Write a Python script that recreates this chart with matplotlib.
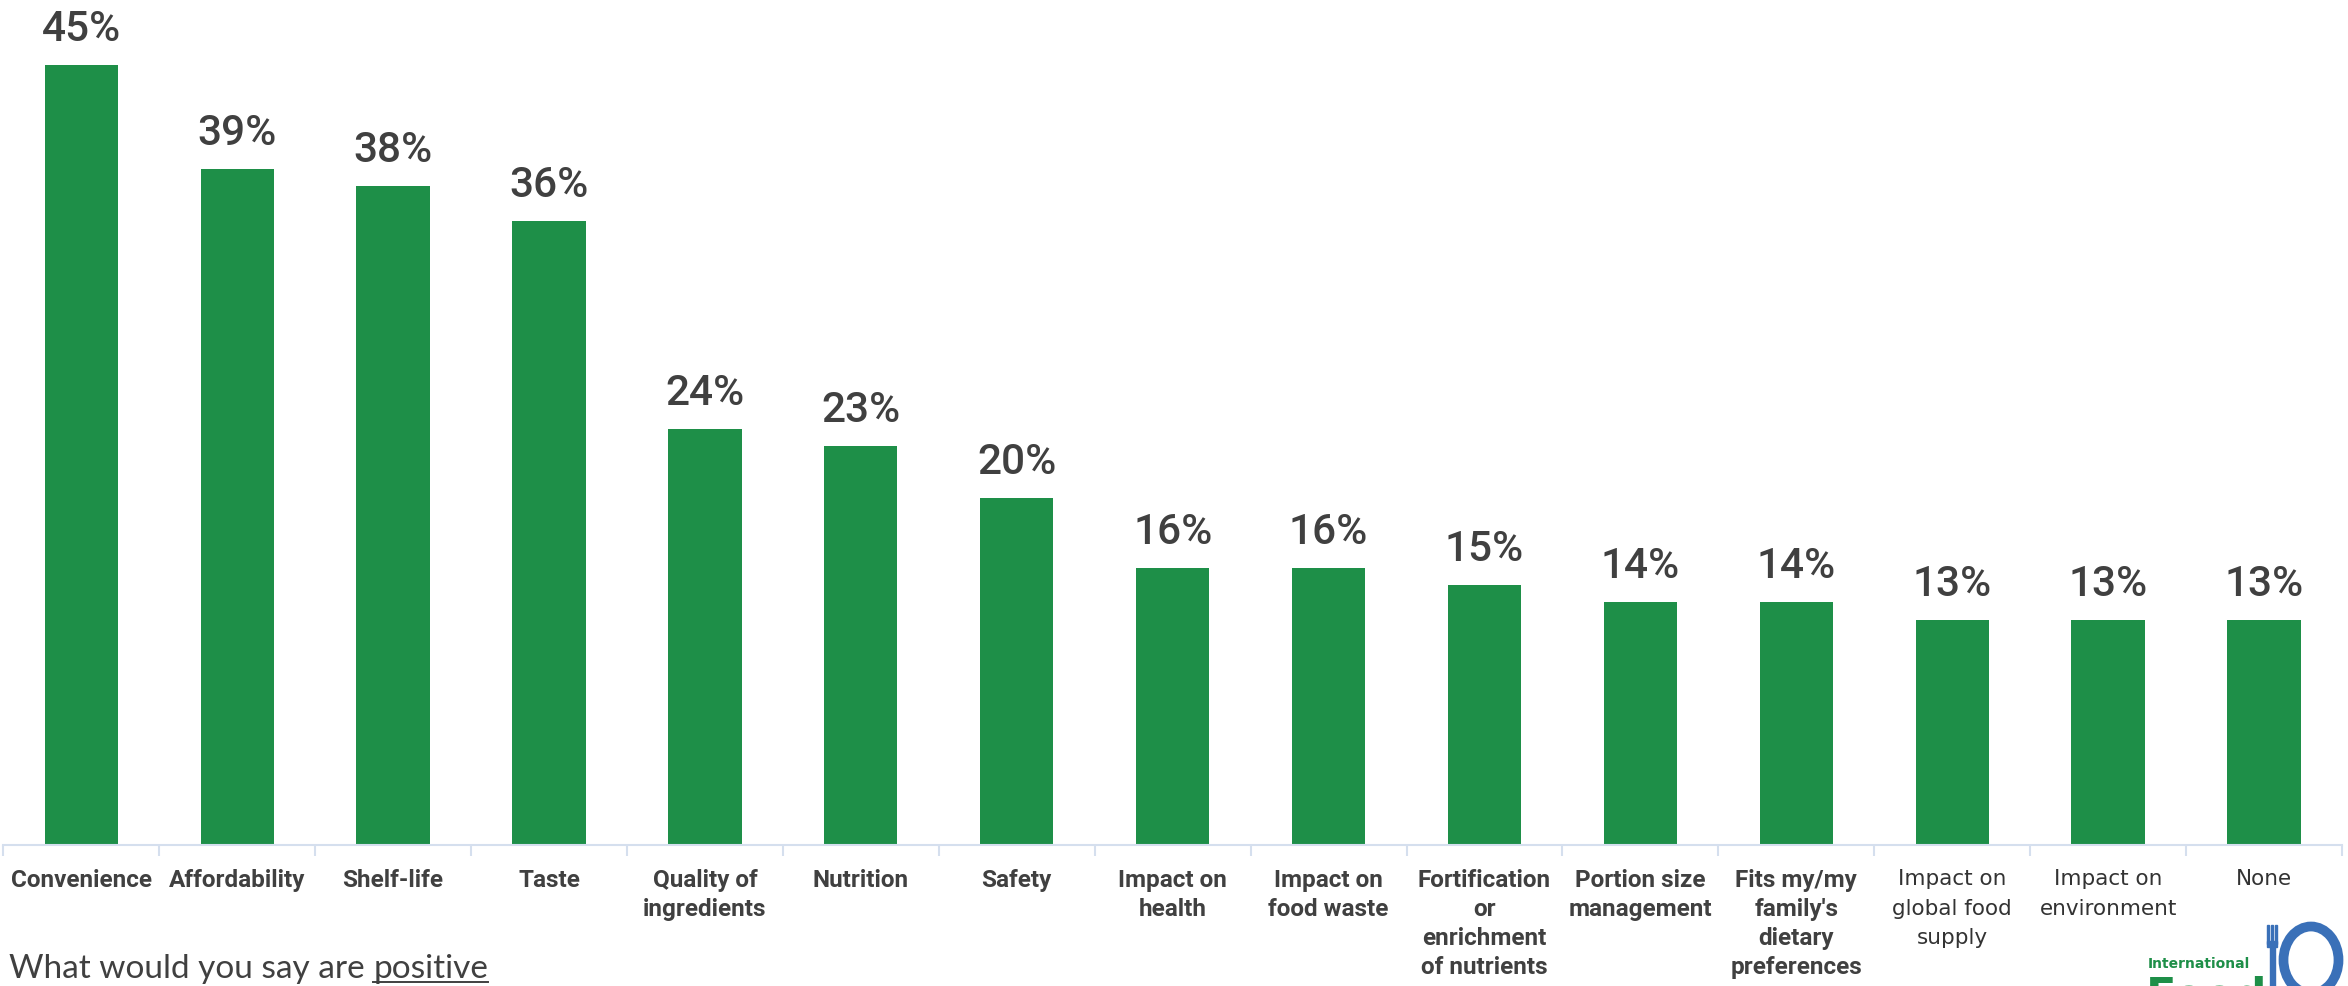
import numpy as np
import matplotlib
matplotlib.use("Agg")
import matplotlib.pyplot as plt
from matplotlib.patches import Ellipse, Rectangle

categories = [
    "Convenience", "Affordability", "Shelf-life", "Taste",
    "Quality of\ningredients", "Nutrition", "Safety",
    "Impact on\nhealth", "Impact on\nfood waste",
    "Fortification\nor\nenrichment\nof nutrients",
    "Portion size\nmanagement", "Fits my/my\nfamily's\ndietary\npreferences",
    "Impact on\nglobal food\nsupply", "Impact on\nenvironment", "None",
]
values = [45, 39, 38, 36, 24, 23, 20, 16, 16, 15, 14, 14, 13, 13, 13]

GREEN = "#1e8f48"
BLUE = "#3a70b8"
TEXT = "#404040"
AXIS = "#d5dfee"

W, H = 2348, 987
fig = plt.figure(figsize=(W / 100, H / 100), dpi=100)
ax = fig.add_axes([3.3 / W, 1 - 846 / H, (2342 - 3.3) / W, 846 / H])

x = np.arange(len(categories))
bars = ax.bar(x, values, width=0.47, color=GREEN, zorder=2)
ax.set_xlim(-0.5, len(categories) - 0.5)
ax.set_ylim(0, 48.8)

for b, v in zip(bars, values):
    ax.annotate(f"{v}%", (b.get_x() + b.get_width() / 2, v),
                xytext=(0, 18), textcoords="offset points",
                ha="center", va="baseline", fontsize=30.5,
                family="Roboto", fontweight="medium", color=TEXT)

# category labels, boundary ticks pointing down
ax.set_xticks(x)
ax.set_xticklabels(categories, family="Roboto", fontweight="bold",
                   fontsize=17.5, color=TEXT, linespacing=1.34, va="top")
ax.tick_params(axis="x", length=0, pad=16.5)
for lbl in ax.get_xticklabels()[12:]:
    lbl.set_family("DejaVu Sans")
    lbl.set_fontweight("normal")
    lbl.set_fontsize(15.5)
    lbl.set_linespacing(1.6)
    lbl.set_color("#333333")
ax.set_xticks(np.arange(len(categories) + 1) - 0.5, minor=True)
ax.tick_params(axis="x", which="minor", length=8, width=1.5, color=AXIS)

ax.set_yticks([])
for s in ["top", "left", "right"]:
    ax.spines[s].set_visible(False)
ax.spines["bottom"].set_color(AXIS)
ax.spines["bottom"].set_linewidth(1.5)

# question text with underlined word
q = fig.text(9 / W, 1 - 978 / H, "What would you say are ", family="Lato",
             fontweight="normal", fontsize=24, color=TEXT, va="baseline")
fig.canvas.draw()
bb = q.get_window_extent()
p = fig.text(bb.x1 / W, 1 - 978 / H, "positive", family="Lato",
             fontweight="normal", fontsize=24, color=TEXT, va="baseline")
fig.canvas.draw()
pb = p.get_window_extent()
fig.add_artist(plt.Line2D([pb.x0 / W, pb.x1 / W], [1 - 983 / H, 1 - 983 / H],
                          color=TEXT, lw=1.4, transform=fig.transFigure))

# logo in the corner
fig.text(2148 / W, 1 - 968 / H, "International", family="DejaVu Sans",
         fontweight="bold", fontsize=10, color=GREEN, va="baseline")
fig.text(2146 / W, 1 - 976 / H, "Food", family="DejaVu Sans",
         fontweight="bold", fontsize=32, color=GREEN, va="top")
fig.add_artist(Ellipse((2311 / W, 1 - 961 / H), 55 / W, 67 / H,
                       fill=False, ec=BLUE, lw=7, transform=fig.transFigure))
fig.add_artist(Rectangle((2270 / W, 0), 5 / W, 1 - 945 / H,
                         color=BLUE, transform=fig.transFigure))
fig.add_artist(Rectangle((2267 / W, 1 - 948 / H), 10 / W, 6 / H,
                         color=BLUE, transform=fig.transFigure))
for fx in [2267, 2270.7, 2274.5]:
    fig.add_artist(Rectangle((fx / W, 1 - 945 / H), 2.3 / W, 19 / H,
                             color=BLUE, transform=fig.transFigure))

fig.savefig("out.png", dpi=100)
